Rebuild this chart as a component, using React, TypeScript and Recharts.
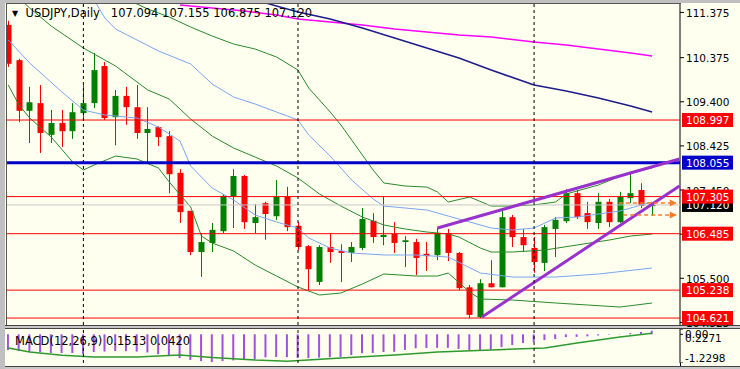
import React from 'react'
import { ComposedChart, Bar, Line, XAxis, YAxis, ReferenceLine, ReferenceDot } from 'recharts'

// daily candles (index 0 = first visible bar)
const opens = [
  111.10, 110.32, 109.20, 109.37, 108.67, 108.93, 108.75, 109.15, 109.37, 110.19,
  109.06, 109.53, 109.28, 108.71, 108.84, 108.64, 107.83, 106.99, 106.08, 106.28,
  106.54, 107.30, 107.76, 106.72, 107.16, 106.87, 107.30, 106.66, 106.21, 105.42,
  106.19, 106.10, 106.06, 106.17, 106.77, 106.41, 106.48, 106.30, 106.30, 106.04,
  106.01, 106.50, 106.06, 105.30, 104.64, 105.39, 105.30, 106.85, 106.41, 106.17,
  105.84, 106.59, 106.76, 107.38, 106.94, 106.72, 107.19, 106.74, 107.27, 107.45,
  107.094,
]
const highs = [
  111.19, 110.35, 109.73, 109.77, 109.22, 109.22, 109.37, 109.77, 110.48, 110.28,
  109.66, 109.73, 109.77, 109.28, 108.86, 108.75, 107.91, 106.99, 106.50, 106.72,
  107.36, 107.91, 107.78, 107.14, 107.19, 107.67, 107.52, 106.74, 106.23, 106.23,
  106.48, 106.25, 106.30, 107.05, 106.94, 107.30, 106.74, 106.43, 106.37, 106.30,
  106.61, 106.59, 106.08, 105.35, 105.48, 105.90, 107.05, 106.90, 106.59, 106.41,
  106.68, 106.85, 107.47, 107.45, 107.19, 107.38, 107.25, 107.41, 107.82, 107.60,
  107.155,
]
const lows = [
  110.17, 108.95, 108.49, 108.27, 108.49, 108.40, 108.58, 109.02, 109.26, 109.00,
  108.44, 108.89, 108.58, 108.05, 108.42, 107.38, 106.72, 106.01, 105.53, 106.08,
  106.50, 106.61, 106.59, 106.50, 106.35, 106.79, 106.54, 106.12, 105.24, 105.35,
  105.84, 105.42, 105.86, 106.12, 106.28, 106.23, 106.06, 105.75, 105.57, 105.66,
  105.90, 105.88, 105.24, 104.62, 104.621, 105.30, 105.30, 106.19, 106.08, 105.62,
  105.66, 105.97, 106.72, 106.81, 106.59, 106.59, 106.63, 106.72, 107.16, 107.05,
  106.875,
]
const closes = [
  110.24, 109.20, 109.39, 108.71, 108.93, 108.75, 109.17, 109.37, 110.10, 109.04,
  109.53, 109.28, 108.71, 108.80, 108.62, 107.80, 106.96, 106.08, 106.30, 106.57,
  107.32, 107.76, 106.74, 106.85, 106.92, 107.30, 106.63, 106.19, 105.70, 106.19,
  106.08, 106.06, 106.19, 106.81, 106.41, 106.46, 106.28, 106.34, 105.95, 105.99,
  106.50, 106.06, 105.28, 104.69, 105.39, 105.30, 106.85, 106.41, 106.23, 105.86,
  106.63, 106.79, 107.38, 106.85, 106.74, 107.19, 106.74, 107.30, 107.38, 107.10,
  107.120,
]

// indicator lines as [bar index, price]
const upperBand2: [number, number][] = [
  [11, 111.671], [13, 111.45], [15, 111.273], [17, 111.052], [19, 110.853], [21, 110.677],
  [23, 110.566], [25, 110.389], [27, 110.102], [28, 109.704], [30, 109.174], [31, 108.887],
  [33, 108.224], [34, 107.892], [35, 107.605], [37, 107.538], [39, 107.516], [40, 107.406],
  [41, 107.185], [43, 107.295], [45, 107.096], [47, 107.096], [49, 107.119], [51, 107.185],
  [52, 107.362], [55, 107.561], [58, 107.848], [60, 107.936],
]
const upperBand1: [number, number][] = [
  [8, 111.65], [9, 111.251], [10, 111.008], [12, 110.765], [14, 110.522], [17, 110.235],
  [19, 109.793], [21, 109.505], [23, 109.351], [25, 109.174], [27, 108.997], [28, 108.666],
  [30, 108.201], [32, 107.671], [34, 107.251], [35, 107.096], [37, 107.052], [39, 107.008],
  [41, 106.875], [43, 106.743], [45, 106.61], [47, 106.566], [49, 106.61], [51, 106.831],
  [53, 106.853], [57, 106.986], [60, 107.185],
]
const midBand: [number, number][] = [
  [0, 111.914], [2, 111.472], [4, 111.074], [7, 110.588], [9, 110.323], [10, 110.19],
  [13, 109.66], [15, 109.461], [17, 109.019], [19, 108.643], [21, 108.378], [23, 108.179],
  [25, 107.98], [27, 107.715], [29, 107.362], [31, 107.096], [33, 106.853], [35, 106.677],
  [37, 106.588], [39, 106.522], [41, 106.478], [42, 106.411], [44, 106.168], [45, 106.08],
  [47, 106.08], [50, 106.124], [53, 106.235], [56, 106.345], [58, 106.433], [60, 106.478],
]
const lowerBand1: [number, number][] = [
  [0, 110.765], [2, 110.257], [5, 109.616], [7, 109.218], [9, 109.107], [12, 109.041],
  [14, 108.842], [16, 108.533], [17, 107.98], [19, 107.494], [21, 107.229], [23, 106.898],
  [25, 106.743], [27, 106.61], [28, 106.389], [30, 106.168], [32, 106.058], [35, 106.014],
  [38, 106.014], [41, 105.969], [44, 105.616], [47, 105.527], [51, 105.527], [55, 105.594],
  [60, 105.726],
]
const lowerBand2: [number, number][] = [
  [0, 109.77], [1, 109.328], [2, 109.041], [4, 108.621], [6, 108.069], [7, 107.892],
  [8, 108.003], [10, 108.201], [12, 108.135], [14, 107.936], [15, 107.627], [17, 107.074],
  [18, 106.433], [19, 106.279], [21, 106.102], [23, 105.793], [25, 105.549], [27, 105.306],
  [29, 105.13], [31, 105.174], [33, 105.373], [35, 105.594], [38, 105.549], [40, 105.549],
  [41, 105.616], [43, 105.196], [44, 105.041], [47, 105.019], [51, 104.953], [54, 104.909],
  [57, 104.864], [60, 104.953],
]
const ma200: [number, number][] = [
  [16, 111.538], [19, 111.472], [22, 111.406], [25, 111.317], [27, 111.229], [30, 111.163],
  [33, 111.096], [36, 111.008], [39, 110.941], [42, 110.875], [45, 110.831], [49, 110.721],
  [52, 110.654], [55, 110.566], [58, 110.478], [60, 110.411],
]
const ma100: [number, number][] = [
  [24, 111.583], [27, 111.384], [30, 111.229], [33, 111.03], [36, 110.809], [39, 110.588],
  [42, 110.367], [45, 110.102], [49, 109.77], [52, 109.638], [55, 109.483], [58, 109.306],
  [60, 109.174],
]

// MACD(12,26,9)
const macdMain = [
  -0.67, -0.72, -0.76, -0.76, -0.80, -0.80, -0.80, -0.85, -0.76, -0.74,
  -0.72, -0.72, -0.74, -0.78, -0.85, -0.93, -1.02, -1.10, -1.15, -1.19,
  -1.15, -1.12, -1.10, -1.08, -0.99, -0.97, -0.98, -1.02, -1.02, -1.00,
  -0.98, -0.97, -0.89, -0.81, -0.80, -0.76, -0.75, -0.67, -0.60, -0.59,
  -0.58, -0.58, -0.63, -0.67, -0.68, -0.66, -0.55, -0.46, -0.37, -0.33,
  -0.25, -0.20, -0.12, -0.11, -0.09, -0.05, -0.02, 0.01, 0.05, 0.10,
  0.1513,
]
const macdSignal: [number, number][] = [
  [0, -0.59], [2, -0.76], [5, -0.9], [8, -0.97], [12, -0.97], [16, -0.89], [19, -0.99],
  [23, -1.1], [26, -1.15], [31, -1.02], [36, -0.89], [40, -0.76], [45, -0.67], [50, -0.59],
  [53, -0.37], [57, -0.12], [60, 0.042],
]

const priceTicks = [111.375, 110.375, 109.4, 108.425, 107.45, 106.475, 105.5, 104.525]
const macdTicks = [0.2271, 0, -1.2298]
const redLevels = [108.997, 107.305, 106.485, 105.238, 104.621]
const blueLevel = 108.055
const bidPrice = 107.12
const separators = [7, 27, 49]
const upperTrend = [{ x: 40, y: 106.61 }, { x: 62.55, y: 108.135 }]
const lowerTrend = [{ x: 44.15, y: 104.643 }, { x: 62.55, y: 107.538 }]
const arrowLevels = [{ from: 56.9, y: 107.163 }, { from: 57.3, y: 106.898 }]

const FONT = 'DejaVu Sans'
const xDomain: [number, number] = [-0.12, 62.6]
const priceDomain: [number, number] = [104.467, 111.561]
const mainMargin = { top: 4, right: 0, bottom: 2, left: 7 }

const candles = opens.map((o, i) => ({ i, o, h: highs[i], l: lows[i], c: closes[i] }))
const macdRows = macdMain.map((m, i) => ({ i, m }))
const pts = (arr: [number, number][]) => arr.map(([i, v]) => ({ i, v }))

const Candle = (props: any) => {
  const { x, y, width, height, payload } = props
  const { o, h, l, c } = payload
  const cx = Math.round(x + width / 2)
  const k = height / (h - l)
  const color = c >= o ? '#008000' : '#ff0000'
  const top = y + (h - Math.max(o, c)) * k
  const bodyH = Math.max(Math.abs(o - c) * k, 1)
  return (
    <g>
      <line x1={cx + 0.5} x2={cx + 0.5} y1={y} y2={y + height} stroke={color} strokeWidth={1} />
      <rect x={cx - 2.5} y={top} width={6} height={bodyH} fill={color} />
    </g>
  )
}

const PriceTick = (props: any) => {
  const { x, y, payload } = props
  return (
    <text x={x} y={y + 4.5} fontSize={10.5} fontFamily={FONT} fill="#000">
      {payload.value.toFixed(3)}
    </text>
  )
}

const PriceTag = (props: any) => {
  const { viewBox, tag, bg } = props
  const x = viewBox.x + viewBox.width + 2
  const y = viewBox.y
  return (
    <g>
      <rect x={x} y={y - 7} width={51} height={14} fill={bg} />
      <text x={x + 4} y={y + 4} fontSize={10.5} fontFamily={FONT} fill="#fff">{tag}</text>
    </g>
  )
}

const ArrowHead = (props: any) => {
  const { cx, cy } = props
  return <polygon points={`${cx - 7},${cy - 3.5} ${cx},${cy} ${cx - 7},${cy + 3.5}`} fill="#ff7a30" />
}

const MacdTick = (props: any) => {
  const { x, y, payload } = props
  const v = payload.value
  const label = v === 0 ? '0.00' : v.toFixed(4)
  const dy = v > 0 ? 13 : v < 0 ? -1.5 : 3.5
  return (
    <text x={x} y={y + dy} fontSize={10.5} fontFamily={FONT} fill="#000">{label}</text>
  )
}

const bandLine = (data: [number, number][], stroke: string, w = 1) => (
  <Line data={pts(data)} dataKey="v" type="linear" stroke={stroke} strokeWidth={w} dot={false}
    activeDot={false} isAnimationActive={false} />
)

const layer: React.CSSProperties = { position: 'absolute', left: 0, top: 0 }

export default function App() {
  return (
    <div style={{ position: 'fixed', left: 0, top: 0, width: 740, height: 369, background: '#fffff0', overflow: 'hidden' }}>
      <div style={{ position: 'absolute', left: 0, top: 0, width: 740, height: 3, background: '#c0c0c0' }} />
      <div style={{ position: 'absolute', left: 0, top: 0, width: 5, height: 369, background: '#c0c0c0' }} />
      <div style={{ position: 'absolute', left: 6, top: 3, width: 674, height: 322, borderLeft: '1px solid #555', borderTop: '1px solid #555' }} />
      <div style={{ position: 'absolute', left: 5, top: 325, width: 735, height: 4, background: '#c8c8c8', borderTop: '1px solid #444', borderBottom: '1px solid #444', boxSizing: 'border-box' }} />
      <div style={{ position: 'absolute', left: 5, top: 366, width: 735, height: 3, background: '#c8c8c8', borderTop: '1px solid #444', boxSizing: 'border-box' }} />

      {/* price scale underneath, so the level tags can cover it */}
      <div style={layer}>
        <ComposedChart width={740} height={327} data={candles} margin={mainMargin}>
          <XAxis dataKey="i" type="number" domain={xDomain} hide allowDataOverflow />
          <YAxis orientation="right" width={60} domain={priceDomain} allowDataOverflow
            ticks={priceTicks} interval={0} tickSize={4} tick={<PriceTick />}
            tickLine={{ stroke: '#000' }} axisLine={{ stroke: '#000' }} />
        </ComposedChart>
      </div>

      <div style={layer}>
        <ComposedChart width={740} height={327} data={candles} margin={mainMargin}>
          <XAxis dataKey="i" type="number" domain={xDomain} hide allowDataOverflow />
          <YAxis orientation="right" width={60} domain={priceDomain} allowDataOverflow
            tick={false} tickLine={false} axisLine={false} />
          {bandLine(ma200, '#ff00ff', 1.5)}
          {bandLine(ma100, '#1c1c8c', 1.5)}
          {bandLine(upperBand2, '#2b8a2b')}
          {bandLine(midBand, '#2b8a2b')}
          {bandLine(lowerBand2, '#2b8a2b')}
          {bandLine(upperBand1, '#7aa6f0')}
          {bandLine(lowerBand1, '#7aa6f0')}
          <ReferenceLine y={bidPrice} stroke="#c8c8c8" label={<PriceTag tag="107.120" bg="#000" />} />
          {redLevels.map((v) => (
            <ReferenceLine key={v} y={v} stroke="#ff0000" label={<PriceTag tag={v.toFixed(3)} bg="#ff0000" />} />
          ))}
          <ReferenceLine y={blueLevel} stroke="#0000c8" strokeWidth={3} label={<PriceTag tag={blueLevel.toFixed(3)} bg="#0000c8" />} />
          <Bar dataKey={(d: any) => [d.l, d.h]} shape={<Candle />} barSize={8} isAnimationActive={false} />
          <ReferenceLine segment={upperTrend} stroke="#9932cc" strokeWidth={3} />
          <ReferenceLine segment={lowerTrend} stroke="#9932cc" strokeWidth={3} />
          {arrowLevels.map((a) => (
            <ReferenceLine key={a.y} segment={[{ x: a.from, y: a.y }, { x: 62.2, y: a.y }]} stroke="#ff7a30" strokeWidth={1.5} strokeDasharray="4 3" />
          ))}
          {arrowLevels.map((a) => (
            <ReferenceDot key={'h' + a.y} x={62.3} y={a.y} shape={<ArrowHead />} />
          ))}
          {separators.map((s) => (
            <ReferenceLine key={s} x={s} stroke="#000" strokeDasharray="3 3" />
          ))}
        </ComposedChart>
      </div>

      <div style={{ position: 'absolute', left: 0, top: 329 }}>
        <ComposedChart width={740} height={34} data={macdRows} margin={{ top: 0, right: 0, bottom: 0, left: 7 }}>
          <XAxis dataKey="i" type="number" domain={xDomain} hide allowDataOverflow />
          <YAxis orientation="right" width={60} domain={[-1.2298, 0.2271]} allowDataOverflow
            ticks={macdTicks} interval={0} tickSize={3} tick={<MacdTick />}
            tickLine={{ stroke: '#000' }} axisLine={{ stroke: '#000' }} />
          <Bar dataKey="m" fill="#a050e0" barSize={2} isAnimationActive={false} />
          <Line data={pts(macdSignal)} dataKey="v" type="linear" stroke="#2e9a2e" strokeWidth={1.5}
            dot={false} activeDot={false} isAnimationActive={false} />
          {separators.map((s) => (
            <ReferenceLine key={s} x={s} stroke="#000" strokeDasharray="3 3" />
          ))}
        </ComposedChart>
      </div>
      <div style={{ position: 'absolute', left: 680, top: 363, width: 1, height: 3, background: '#000' }} />

      <div style={{ position: 'absolute', left: 12, top: 6, fontFamily: FONT, fontSize: 11.5, color: '#000', whiteSpace: 'pre', lineHeight: '14px' }}>
        <span style={{ fontSize: 8, position: 'relative', top: -1 }}>▼</span>
        {'  USDJPY,Daily   107.094 107.155 106.875 107.120'}
      </div>
      <div style={{ position: 'absolute', left: 15, top: 334, fontFamily: FONT, fontSize: 11.5, color: '#000', whiteSpace: 'pre', lineHeight: '14px' }}>
        {'MACD(12,26,9) 0.1513 0.0420'}
      </div>
    </div>
  )
}
